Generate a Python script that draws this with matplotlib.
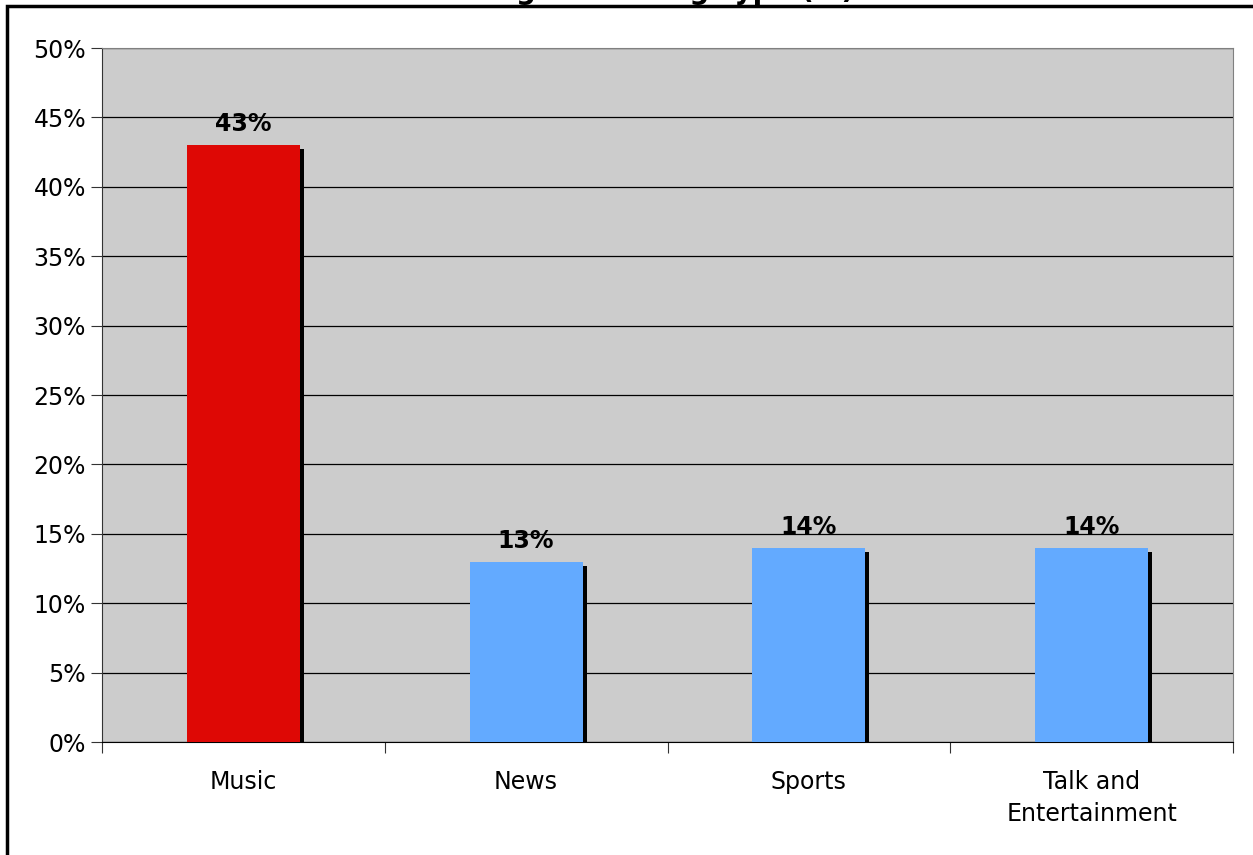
import matplotlib
matplotlib.use("Agg")
import matplotlib.pyplot as plt
import matplotlib.transforms as mtransforms
from matplotlib.patches import Rectangle

# data
categories = ["Music", "News", "Sports", "Talk and\nEntertainment"]
shares = [43, 13, 14, 14]
bar_colors = ["#DE0805", "#63AAFF", "#63AAFF", "#63AAFF"]
yticks = [0, 5, 10, 15, 20, 25, 30, 35, 40, 45, 50]

plt.rcParams['font.family'] = ['DejaVu Sans']

fig = plt.figure(figsize=(12.53, 8.55), dpi=100)
W, H = 1253, 855

# outer chart border (runs off the right / bottom edge)
fig.patches.append(Rectangle((7 / W, -0.1), 1.2, (H - 6) / H + 0.1, transform=fig.transFigure,
                             fill=False, edgecolor="black", linewidth=2.5, zorder=0))

# title, cut off at the top - only descenders show
fig.text(640 / W, (H + 1) / H, "Average Listening Type (%)", ha="center", va="baseline",
         fontsize=20, fontweight="bold")

ax = fig.add_axes([102 / W, (H - 742) / H, (1233 - 102) / W, (742 - 48) / H])
ax.set_facecolor("#CCCCCC")

x = range(len(categories))
# shadow bars shifted 4px right and 4px down
shadow_tr = mtransforms.offset_copy(ax.transData, fig=fig, x=4, y=-4, units="dots")
ax.bar(x, shares, width=0.4, color="black", transform=shadow_tr, zorder=2)
ax.bar(x, shares, width=0.4, color=bar_colors, zorder=3)

for xi, v in zip(x, shares):
    ax.annotate(f"{v}%", (xi, v), xytext=(0, 9), textcoords="offset pixels",
                ha="center", va="bottom", fontsize=17, fontweight="bold", zorder=4)

ax.set_xlim(-0.5, 3.5)
ax.set_ylim(0, 50)
ax.set_yticks(yticks)
ax.set_yticklabels([f"{t}%" for t in yticks], fontsize=17)
ax.yaxis.grid(True, color="black", linewidth=0.9)
ax.set_axisbelow(True)

ax.set_xticks([-0.5, 0.5, 1.5, 2.5, 3.5])
ax.set_xticklabels([])
ax.set_xticks(list(x), minor=True)
ax.set_xticklabels(categories, minor=True, fontsize=17, linespacing=1.45)
ax.tick_params(axis="x", which="minor", length=0, pad=20)
ax.tick_params(axis="x", which="major", length=8, color="#333333", direction="out")
ax.tick_params(axis="y", length=8, color="#333333", pad=3.5)

for s in ["top", "right"]:
    ax.spines[s].set_color("#808080")
ax.spines["left"].set_color("#333333")
ax.spines["bottom"].set_color("black")

fig.savefig("out.png", dpi=100)
